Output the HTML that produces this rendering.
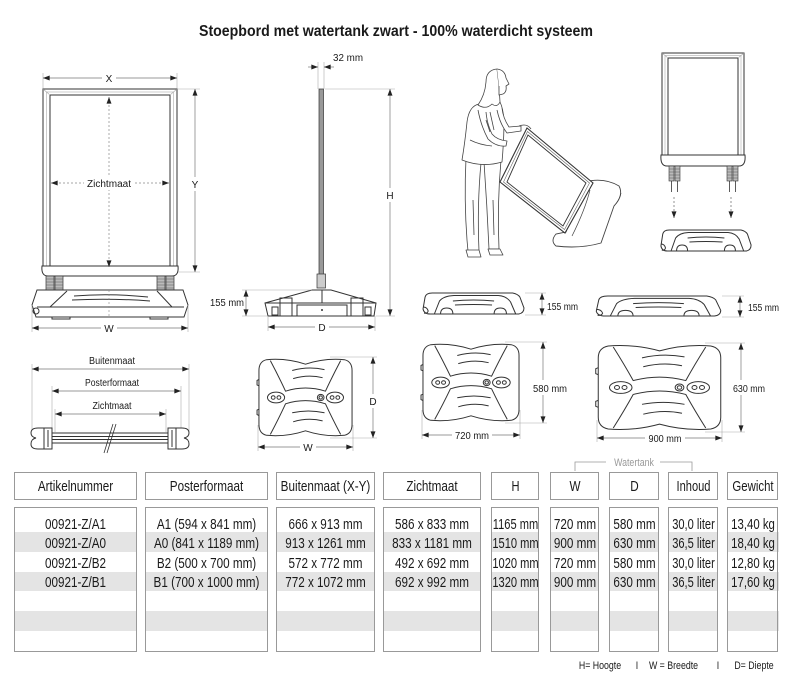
<!DOCTYPE html>
<html><head><meta charset="utf-8"><style>
html,body{margin:0;padding:0;background:#fff;}
svg{display:block;}
text{font-family:"Liberation Sans",Arial,sans-serif;fill:#1a1a1a;}
.d{stroke:#777;stroke-width:.7;fill:none;}
.e{stroke:#aaa;stroke-width:.6;fill:none;}
.k{stroke:#333;stroke-width:1;fill:none;}
.kw{stroke:#333;stroke-width:1;fill:#fff;}
.lbl{font-size:10px;}
.t{font-size:15px;}
</style></head><body>
<svg width="793" height="680" viewBox="0 0 793 680" xmlns="http://www.w3.org/2000/svg">
<defs>
<marker id="ar" viewBox="0 0 8 6" refX="8" refY="3" markerWidth="7" markerHeight="5" markerUnits="userSpaceOnUse" orient="auto-start-reverse"><path d="M0,0L8,3L0,6z" fill="#222"/></marker>
<symbol id="sideBase" viewBox="0 0 100 22" preserveAspectRatio="none" overflow="visible">
<g fill="none" stroke="#333" stroke-width="1" vector-effect="non-scaling-stroke">
<path vector-effect="non-scaling-stroke" d="M3,4 Q4,0 10,0 L88,0 Q93,1 95,4 L99,15 Q99,20 94,21 L8,21 Q2,21 1,16 Z"/>
<path vector-effect="non-scaling-stroke" d="M12,21 L17,8 Q21,3 31,2.5 L74,2.5 Q82,3 86,9 L91,21"/>
<path vector-effect="non-scaling-stroke" d="M30,8 Q50,6 70,8 M32,12 Q50,11 68,12"/>
<path vector-effect="non-scaling-stroke" d="M18,21 Q18,15 24,15 Q30,15 30,21 M70,21 Q70,15 76,15 Q82,15 82,21"/>
<path vector-effect="non-scaling-stroke" d="M1,14 Q5,14 6,18 Q5,21 2,20"/>
</g>
</symbol>
<symbol id="topBase" viewBox="0 0 100 90" preserveAspectRatio="none" overflow="visible">
<g fill="none" stroke="#333" stroke-width="1">
<path vector-effect="non-scaling-stroke" d="M9,3 Q30,1 50,8 Q70,1 91,3 Q99,5 99,15 L99,75 Q99,85 91,87 Q70,89 50,82 Q30,89 9,87 Q1,85 1,75 L1,15 Q1,5 9,3 Z"/>
<path vector-effect="non-scaling-stroke" d="M13,4 Q22,22 29,38 Q50,31 71,38 Q78,22 87,4"/>
<path vector-effect="non-scaling-stroke" d="M13,86 Q22,68 29,52 Q50,45 71,52 Q78,68 87,86"/>
<ellipse vector-effect="non-scaling-stroke" cx="19" cy="45" rx="9" ry="6"/>
<ellipse vector-effect="non-scaling-stroke" cx="81" cy="45" rx="9" ry="6"/>
<circle vector-effect="non-scaling-stroke" cx="16" cy="45" r="2"/>
<circle vector-effect="non-scaling-stroke" cx="22" cy="45" r="2"/>
<circle vector-effect="non-scaling-stroke" cx="78" cy="45" r="2"/>
<circle vector-effect="non-scaling-stroke" cx="84" cy="45" r="2"/>
<circle vector-effect="non-scaling-stroke" cx="66" cy="45" r="3.5"/>
<circle vector-effect="non-scaling-stroke" cx="66" cy="45" r="1.8"/>
<path vector-effect="non-scaling-stroke" d="M36,15 Q53,10 70,14 M37,24 Q53,19 68,23 M36,62 Q53,58 70,62 M37,72 Q53,67 68,71"/>
<path vector-effect="non-scaling-stroke" d="M1,25 L-1,26 L-1,31 L1,32 M1,58 L-1,59 L-1,64 L1,65"/>
</g>
</symbol>
</defs>

<!-- Title -->
<text x="396" y="36" text-anchor="middle" font-size="16" font-weight="bold" textLength="394" lengthAdjust="spacingAndGlyphs">Stoepbord met watertank zwart - 100% waterdicht systeem</text>

<!-- ===== FRONT VIEW ===== -->
<line class="e" x1="43" y1="73" x2="43" y2="89"/>
<line class="e" x1="177" y1="73" x2="177" y2="89"/>
<line class="d" x1="43" y1="78" x2="177" y2="78" marker-start="url(#ar)" marker-end="url(#ar)"/>
<rect x="102" y="71" width="14" height="13" fill="#fff"/>
<text class="lbl" x="109" y="82" text-anchor="middle">X</text>

<rect x="43" y="89" width="134" height="184" class="k" stroke-width="1.2"/>
<rect x="46.5" y="92" width="127" height="178" class="e" stroke="#666"/>
<rect x="50" y="95" width="120" height="172" class="k" stroke-width=".9"/>
<path class="e" stroke="#666" d="M43,89L50,95M177,89L170,95"/>
<path class="kw" d="M42,266 Q41,276 48,276 L172,276 Q179,276 178,266 Z"/>
<!-- feet -->
<g fill="#bbb" stroke="#333" stroke-width=".7">
<rect x="46" y="276" width="8" height="14"/><rect x="55" y="276" width="8" height="14"/>
<rect x="157" y="276" width="8" height="14"/><rect x="166" y="276" width="8" height="14"/>
</g>
<path stroke="#555" stroke-width=".5" d="M46,279h17M46,282h17M46,285h17M46,288h17M157,279h17M157,282h17M157,285h17M157,288h17"/>
<!-- base -->
<path class="kw" d="M37,290 L183,290 L188,305 L184,317 L36,317 L32,305 Z"/>
<path class="k" stroke-width=".8" d="M50,307 L67,291 M157,291 L172,307 M37,307 L184,307 M74,296 Q110,293 148,297 M72,300 Q110,298 150,301"/>
<circle cx="36" cy="311" r="3" class="k"/>
<path class="k" stroke-width=".8" d="M52,317 L52,319 L70,319 L70,317 M150,317 L150,319 L168,319 L168,317"/>
<!-- zichtmaat dims -->
<line x1="109" y1="97" x2="109" y2="267" stroke="#888" stroke-width=".7" stroke-dasharray="2,2" marker-start="url(#ar)" marker-end="url(#ar)"/>
<line x1="109" y1="290" x2="109" y2="317" stroke="#888" stroke-width=".6" stroke-dasharray="2,2"/>
<line x1="51" y1="183" x2="169" y2="183" stroke="#888" stroke-width=".7" stroke-dasharray="2,2" marker-start="url(#ar)" marker-end="url(#ar)"/>
<rect x="84" y="176" width="50" height="14" fill="#fff"/>
<text class="lbl" x="109" y="187" text-anchor="middle" textLength="44" lengthAdjust="spacingAndGlyphs">Zichtmaat</text>
<!-- Y -->
<line class="e" x1="178" y1="89" x2="200" y2="89"/>
<line class="e" x1="178" y1="272" x2="200" y2="272"/>
<line class="d" x1="195" y1="89" x2="195" y2="272" marker-start="url(#ar)" marker-end="url(#ar)"/>
<rect x="189" y="177" width="12" height="14" fill="#fff"/>
<text class="lbl" x="195" y="188" text-anchor="middle">Y</text>
<!-- W -->
<line class="e" x1="32" y1="305" x2="32" y2="332"/>
<line class="e" x1="188" y1="305" x2="188" y2="332"/>
<line class="d" x1="32" y1="328" x2="188" y2="328" marker-start="url(#ar)" marker-end="url(#ar)"/>
<rect x="101" y="321" width="16" height="14" fill="#fff"/>
<text class="lbl" x="109" y="332" text-anchor="middle">W</text>

<!-- ===== SIDE VIEW ===== -->
<line class="e" x1="318" y1="62" x2="318" y2="89"/>
<line class="e" x1="324" y1="62" x2="324" y2="89"/>
<line class="d" x1="308" y1="67" x2="318" y2="67" marker-end="url(#ar)"/>
<line class="d" x1="334" y1="67" x2="324" y2="67" marker-end="url(#ar)"/>
<text class="lbl" x="333" y="61" textLength="30" lengthAdjust="spacingAndGlyphs">32 mm</text>
<rect x="319" y="89" width="4.5" height="187" fill="#999" stroke="#333" stroke-width=".7"/>
<rect x="317" y="274" width="8.5" height="14" fill="#ccc" stroke="#333" stroke-width=".7"/>
<path class="kw" d="M312,290 L331,290 L376,303 L374,316 L268,316 L265,303 Z"/>
<path class="k" stroke-width=".8" d="M265,303 L376,303 M322,290 L322,303"/>
<g class="k" stroke-width=".7">
<rect x="280" y="298" width="12" height="18"/><rect x="351" y="298" width="12" height="18"/>
<rect x="297" y="305" width="50" height="11"/>
<rect x="272" y="307" width="6" height="8"/><rect x="365" y="307" width="6" height="8"/>
</g>
<circle cx="322" cy="310" r="1" fill="#333"/>
<!-- H -->
<line class="e" x1="325" y1="89" x2="395" y2="89"/>
<line class="e" x1="376" y1="316" x2="395" y2="316"/>
<line class="d" x1="390" y1="89" x2="390" y2="316" marker-start="url(#ar)" marker-end="url(#ar)"/>
<rect x="384" y="188" width="12" height="14" fill="#fff"/>
<text class="lbl" x="390" y="199" text-anchor="middle">H</text>
<!-- 155 -->
<line class="e" x1="242" y1="290" x2="312" y2="290"/>
<line class="e" x1="242" y1="316" x2="268" y2="316"/>
<line class="d" x1="246" y1="290" x2="246" y2="316" marker-start="url(#ar)" marker-end="url(#ar)"/>
<text class="lbl" x="210" y="306" textLength="34" lengthAdjust="spacingAndGlyphs">155 mm</text>
<!-- D -->
<line class="e" x1="268" y1="316" x2="268" y2="331"/>
<line class="e" x1="375" y1="316" x2="375" y2="331"/>
<line class="d" x1="268" y1="327" x2="375" y2="327" marker-start="url(#ar)" marker-end="url(#ar)"/>
<rect x="315" y="320" width="14" height="14" fill="#fff"/>
<text class="lbl" x="322" y="331" text-anchor="middle">D</text>

<!-- ===== WOMAN + TILTED SIGN ===== -->
<g stroke="#444" stroke-width=".8" fill="#fff" stroke-linejoin="round">
<path d="M466,158 Q464,200 467,240 L468,251 L479,251 Q477,205 481,163 Z"/>
<path d="M484,162 Q487,205 489,249 L499,249 Q497,205 501,160 Z"/>
<path d="M466,250 L468,257 L481,257 L479,250 Z M488,249 L490,255 L503,255 L500,249 Z"/>
<path d="M479,104 Q469,106 467,122 Q465,142 462,160 Q482,168 502,162 Q504,140 504,120 Q503,108 500,102 Z"/>
<path d="M497,69 Q486,70 486,82 Q485,95 478,105 Q486,110 492,104 Q497,108 500,102 L499,86 Z"/>
<path d="M497,69 Q505,70 506,78 L509,84 L506,86 Q507,92 503,94 L499,95 L499,86"/>
<path d="M478,110 Q481,126 488,139 Q496,147 506,146 L507,141 Q497,140 492,134 Q487,124 486,112" />
<path d="M497,110 Q500,124 507,133 L521,131 L521,126 L509,127 Q503,118 502,108"/>
<path fill="none" d="M486,120 L490,132 M470,140 Q480,145 492,146 M490,112 L494,130 M473,200 L474,235 M493,200 L494,235"/>
</g>
<path d="M584,182 Q604,177 619,186 Q624,195 614,206 L601,243 Q580,249 556,246 Q550,241 556,234 L566,232 Z" fill="#fff" stroke="#444" stroke-width=".9"/>
<path d="M614,206 Q620,200 621,193 M590,190 Q585,210 572,236" fill="none" stroke="#444" stroke-width=".7"/>
<polygon points="527,128 593,183 565,233 500,182" fill="#fff" stroke="#333" stroke-width="1.1"/>
<polygon points="527.5,131.5 589.5,183 564.5,229.5 503.5,182" fill="none" stroke="#666" stroke-width=".6"/>
<polygon points="528,135 586,183 563,226 507,182" fill="none" stroke="#333" stroke-width=".9"/>
<path d="M519,126 Q527,123 531,129" fill="none" stroke="#444" stroke-width=".8"/>

<!-- ===== TOP-RIGHT ASSEMBLY ===== -->
<rect x="662" y="53" width="82" height="108" class="k" stroke-width="1.1"/>
<rect x="665" y="55.5" width="76" height="103" class="e" stroke="#666"/>
<rect x="668" y="58" width="70" height="98" class="k" stroke-width=".9"/>
<path class="e" stroke="#666" d="M662,53L668,58M744,53L738,58"/>
<path class="kw" d="M661,155 Q660,166 667,166 L739,166 Q746,166 745,155 Z"/>
<g fill="#bbb" stroke="#333" stroke-width=".6">
<rect x="669" y="166" width="5" height="15"/><rect x="675" y="166" width="5" height="15"/>
<rect x="727" y="166" width="5" height="15"/><rect x="733" y="166" width="5" height="15"/>
</g>
<path stroke="#555" stroke-width=".5" d="M669,169h11M669,172h11M669,175h11M669,178h11M727,169h11M727,172h11M727,175h11M727,178h11"/>
<path stroke="#333" stroke-width=".8" d="M671.5,181V192M677.5,181V192M729.5,181V192M735.5,181V192"/>
<line x1="674" y1="197" x2="674" y2="218" stroke="#666" stroke-width=".7" stroke-dasharray="2,2" marker-end="url(#ar)"/>
<line x1="731" y1="197" x2="731" y2="218" stroke="#666" stroke-width=".7" stroke-dasharray="2,2" marker-end="url(#ar)"/>
<use href="#sideBase" x="660" y="230" width="92" height="22"/>

<!-- ===== ROW 2 SIDE BASES ===== -->
<use href="#sideBase" x="422" y="293" width="103" height="22"/>
<line class="e" x1="525" y1="293" x2="546" y2="293"/>
<line class="e" x1="525" y1="315" x2="546" y2="315"/>
<line class="d" x1="542" y1="293" x2="542" y2="315" marker-start="url(#ar)" marker-end="url(#ar)"/>
<text class="lbl" x="547" y="310" textLength="31" lengthAdjust="spacingAndGlyphs">155 mm</text>

<use href="#sideBase" x="595" y="296" width="127" height="21"/>
<line class="e" x1="722" y1="296" x2="744" y2="296"/>
<line class="e" x1="722" y1="317" x2="744" y2="317"/>
<line class="d" x1="740" y1="296" x2="740" y2="317" marker-start="url(#ar)" marker-end="url(#ar)"/>
<text class="lbl" x="748" y="311" textLength="31" lengthAdjust="spacingAndGlyphs">155 mm</text>

<!-- ===== ROW 3 CROSS SECTION ===== -->
<line class="e" x1="32" y1="364" x2="32" y2="432"/>
<line class="e" x1="189" y1="364" x2="189" y2="432"/>
<line class="d" x1="32" y1="369" x2="189" y2="369" marker-start="url(#ar)" marker-end="url(#ar)"/>
<text class="lbl" x="112" y="364" text-anchor="middle" textLength="46" lengthAdjust="spacingAndGlyphs">Buitenmaat</text>
<line class="e" x1="52" y1="386" x2="52" y2="432"/>
<line class="e" x1="181" y1="386" x2="181" y2="432"/>
<line class="d" x1="52" y1="391" x2="181" y2="391" marker-start="url(#ar)" marker-end="url(#ar)"/>
<text class="lbl" x="112" y="386" text-anchor="middle" textLength="54" lengthAdjust="spacingAndGlyphs">Posterformaat</text>
<line class="e" x1="55" y1="409" x2="55" y2="432"/>
<line class="e" x1="166" y1="409" x2="166" y2="432"/>
<line class="d" x1="55" y1="414" x2="166" y2="414" marker-start="url(#ar)" marker-end="url(#ar)"/>
<text class="lbl" x="112" y="409" text-anchor="middle" textLength="39" lengthAdjust="spacingAndGlyphs">Zichtmaat</text>
<rect x="45" y="433" width="128" height="10" class="k" stroke-width=".9"/>
<path class="k" stroke-width=".6" d="M45,436.5H173M45,439.5H173"/>
<path class="kw" d="M52,428 L38,428 Q31,428 31,433 Q31,437 36,438 Q31,439 31,444 Q31,449 38,449 L52,449 Z"/>
<path class="k" stroke-width=".6" d="M44,428V449M48,430V447"/>
<path class="kw" d="M168,428 L182,428 Q189,428 189,433 Q189,437 184,438 Q189,439 189,444 Q189,449 182,449 L168,449 Z"/>
<path class="k" stroke-width=".6" d="M176,428V449M172,430V447"/>
<path stroke="#333" stroke-width=".8" d="M113,424 L104,453 M116,424 L107,453"/>

<!-- ===== ROW 3 TOP VIEWS ===== -->
<use href="#topBase" x="258" y="357" width="95" height="81"/>
<line class="e" x1="330" y1="357" x2="377" y2="357"/>
<line class="e" x1="330" y1="438" x2="377" y2="438"/>
<line class="d" x1="373" y1="357" x2="373" y2="438" marker-start="url(#ar)" marker-end="url(#ar)"/>
<rect x="367" y="394" width="12" height="14" fill="#fff"/>
<text class="lbl" x="373" y="405" text-anchor="middle">D</text>
<line class="e" x1="258" y1="425" x2="258" y2="451"/>
<line class="e" x1="353" y1="425" x2="353" y2="451"/>
<line class="d" x1="258" y1="447" x2="353" y2="447" marker-start="url(#ar)" marker-end="url(#ar)"/>
<rect x="300" y="440" width="16" height="14" fill="#fff"/>
<text class="lbl" x="308" y="451" text-anchor="middle">W</text>

<use href="#topBase" x="422" y="342" width="98" height="81"/>
<line class="e" x1="505" y1="342" x2="547" y2="342"/>
<line class="e" x1="505" y1="423" x2="547" y2="423"/>
<line class="d" x1="543" y1="342" x2="543" y2="423" marker-start="url(#ar)" marker-end="url(#ar)"/>
<rect x="531" y="380" width="38" height="15" fill="#fff"/>
<text class="lbl" x="550" y="392" text-anchor="middle" textLength="34" lengthAdjust="spacingAndGlyphs">580 mm</text>
<line class="e" x1="422" y1="410" x2="422" y2="439"/>
<line class="e" x1="520" y1="410" x2="520" y2="439"/>
<line class="d" x1="422" y1="435" x2="520" y2="435" marker-start="url(#ar)" marker-end="url(#ar)"/>
<rect x="452" y="428" width="40" height="14" fill="#fff"/>
<text class="lbl" x="472" y="439" text-anchor="middle" textLength="34" lengthAdjust="spacingAndGlyphs">720 mm</text>

<use href="#topBase" x="597" y="343" width="125" height="89"/>
<line class="e" x1="705" y1="343" x2="745" y2="343"/>
<line class="e" x1="705" y1="432" x2="745" y2="432"/>
<line class="d" x1="741" y1="343" x2="741" y2="432" marker-start="url(#ar)" marker-end="url(#ar)"/>
<rect x="731" y="380" width="36" height="15" fill="#fff"/>
<text class="lbl" x="749" y="392" text-anchor="middle" textLength="32" lengthAdjust="spacingAndGlyphs">630 mm</text>
<line class="e" x1="597" y1="420" x2="597" y2="442"/>
<line class="e" x1="722" y1="420" x2="722" y2="442"/>
<line class="d" x1="597" y1="438" x2="722" y2="438" marker-start="url(#ar)" marker-end="url(#ar)"/>
<rect x="645" y="431" width="40" height="14" fill="#fff"/>
<text class="lbl" x="665" y="442" text-anchor="middle" textLength="33" lengthAdjust="spacingAndGlyphs">900 mm</text>

<!-- ===== TABLE ===== -->
<path d="M575,471V462H606M660,462H692V471" fill="none" stroke="#999" stroke-width=".8"/>
<g transform="translate(634,0) scale(0.8,1)"><text x="0" y="466" text-anchor="middle" font-size="11" style="fill:#999">Watertank</text></g>

<g fill="#fff" stroke="#999" stroke-width="1">
<rect x="14.5" y="472.5" width="122" height="27"/>
<rect x="145.5" y="472.5" width="122" height="27"/>
<rect x="276.5" y="472.5" width="98" height="27"/>
<rect x="383.5" y="472.5" width="97" height="27"/>
<rect x="491.5" y="472.5" width="47" height="27"/>
<rect x="550.5" y="472.5" width="48" height="27"/>
<rect x="609.5" y="472.5" width="49" height="27"/>
<rect x="668.5" y="472.5" width="49" height="27"/>
<rect x="727.5" y="472.5" width="50" height="27"/>
</g>
<g fill="#e4e4e4">
<rect x="14" y="532" width="765" height="20"/>
<rect x="14" y="572" width="765" height="19"/>
<rect x="14" y="611" width="765" height="20"/>
</g>
<g fill="#fff">
<rect x="137" y="506" width="8" height="147"/>
<rect x="268" y="506" width="8" height="147"/>
<rect x="375" y="506" width="8" height="147"/>
<rect x="481" y="506" width="10" height="147"/>
<rect x="539" y="506" width="11" height="147"/>
<rect x="599" y="506" width="10" height="147"/>
<rect x="659" y="506" width="9" height="147"/>
<rect x="718" y="506" width="9" height="147"/>
</g>
<g fill="none" stroke="#999" stroke-width="1">
<rect x="14.5" y="507.5" width="122" height="144"/>
<rect x="145.5" y="507.5" width="122" height="144"/>
<rect x="276.5" y="507.5" width="98" height="144"/>
<rect x="383.5" y="507.5" width="97" height="144"/>
<rect x="491.5" y="507.5" width="47" height="144"/>
<rect x="550.5" y="507.5" width="48" height="144"/>
<rect x="609.5" y="507.5" width="49" height="144"/>
<rect x="668.5" y="507.5" width="49" height="144"/>
<rect x="727.5" y="507.5" width="50" height="144"/>
</g>

<g class="t">
<g transform="translate(75.5,0) scale(0.78,1)" text-anchor="middle">
<text x="0" y="491">Artikelnummer</text>
<text x="0" y="529">00921-Z/A1</text><text x="0" y="548">00921-Z/A0</text><text x="0" y="568">00921-Z/B2</text><text x="0" y="587">00921-Z/B1</text>
</g>
<g transform="translate(206.5,0) scale(0.78,1)" text-anchor="middle">
<text x="0" y="491">Posterformaat</text>
<text x="0" y="529">A1 (594 x 841 mm)</text><text x="0" y="548">A0 (841 x 1189 mm)</text><text x="0" y="568">B2 (500 x 700 mm)</text><text x="0" y="587">B1 (700 x 1000 mm)</text>
</g>
<g transform="translate(325.5,0) scale(0.78,1)" text-anchor="middle">
<text x="0" y="491">Buitenmaat (X-Y)</text>
<text x="0" y="529">666 x 913 mm</text><text x="0" y="548">913 x 1261 mm</text><text x="0" y="568">572 x 772 mm</text><text x="0" y="587">772 x 1072 mm</text>
</g>
<g transform="translate(432,0) scale(0.78,1)" text-anchor="middle">
<text x="0" y="491">Zichtmaat</text>
<text x="0" y="529">586 x 833 mm</text><text x="0" y="548">833 x 1181 mm</text><text x="0" y="568">492 x 692 mm</text><text x="0" y="587">692 x 992 mm</text>
</g>
<g transform="translate(515.5,0) scale(0.74,1)" text-anchor="middle">
<text x="0" y="491">H</text>
<text x="0" y="529">1165 mm</text><text x="0" y="548">1510 mm</text><text x="0" y="568">1020 mm</text><text x="0" y="587">1320 mm</text>
</g>
<g transform="translate(575,0) scale(0.78,1)" text-anchor="middle">
<text x="0" y="491">W</text>
<text x="0" y="529">720 mm</text><text x="0" y="548">900 mm</text><text x="0" y="568">720 mm</text><text x="0" y="587">900 mm</text>
</g>
<g transform="translate(634.5,0) scale(0.78,1)" text-anchor="middle">
<text x="0" y="491">D</text>
<text x="0" y="529">580 mm</text><text x="0" y="548">630 mm</text><text x="0" y="568">580 mm</text><text x="0" y="587">630 mm</text>
</g>
<g transform="translate(693.5,0) scale(0.74,1)" text-anchor="middle">
<text x="0" y="491">Inhoud</text>
<text x="0" y="529">30,0 liter</text><text x="0" y="548">36,5 liter</text><text x="0" y="568">30,0 liter</text><text x="0" y="587">36,5 liter</text>
</g>
<g transform="translate(753,0) scale(0.76,1)" text-anchor="middle">
<text x="0" y="491">Gewicht</text>
<text x="0" y="529">13,40 kg</text><text x="0" y="548">18,40 kg</text><text x="0" y="568">12,80 kg</text><text x="0" y="587">17,60 kg</text>
</g>
</g>

<g font-size="11">
<g transform="translate(600,0) scale(0.8,1)"><text x="0" y="669" text-anchor="middle">H= Hoogte</text></g>
<g transform="translate(637,0) scale(0.8,1)"><text x="0" y="669" text-anchor="middle">I</text></g>
<g transform="translate(673.5,0) scale(0.8,1)"><text x="0" y="669" text-anchor="middle">W = Breedte</text></g>
<g transform="translate(718,0) scale(0.8,1)"><text x="0" y="669" text-anchor="middle">I</text></g>
<g transform="translate(754,0) scale(0.8,1)"><text x="0" y="669" text-anchor="middle">D= Diepte</text></g>
</g>
</svg>
</body></html>
